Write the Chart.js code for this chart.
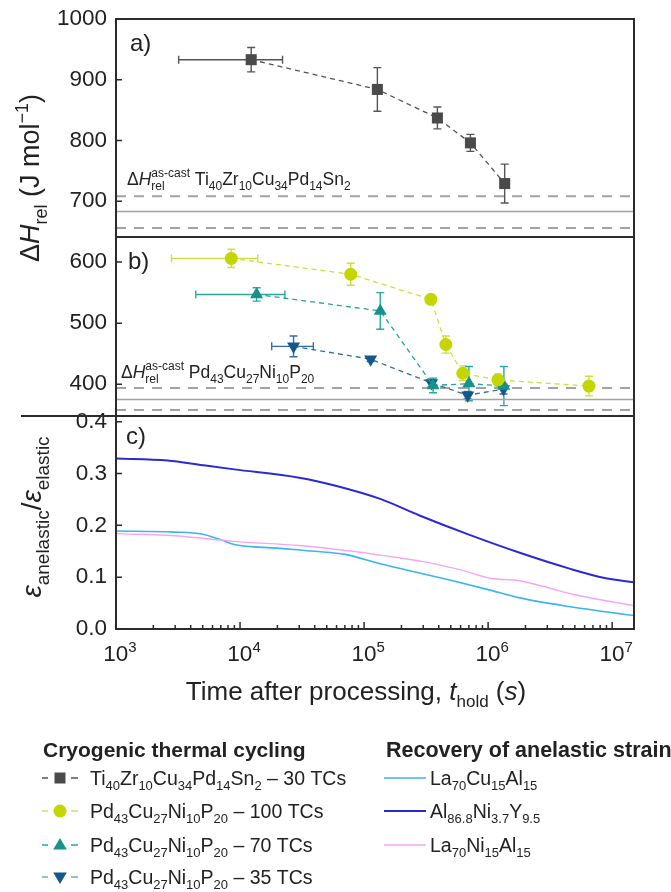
<!DOCTYPE html>
<html>
<head>
<meta charset="utf-8">
<script src="https://cdn.jsdelivr.net/npm/chart.js@4.4.1/dist/chart.umd.min.js"></script>
<style>
  html, body { margin: 0; padding: 0; background: #fff; }
  #wrap { position: relative; width: 671px; height: 892px; }
</style>
</head>
<body>
<div id="wrap"><canvas id="fig" width="671" height="892"></canvas></div>
<script>
var FONT = '"Liberation Sans", Arial, sans-serif';
var xMin = 1e3, xMax = 1.5e7;

// a) Ti40Zr10Cu34Pd14Sn2 - 30 TCs
var tiTime = [1.23e4, 1.28e5, 3.9e5, 7.2e5, 1.36e6];
var tiDH = [933, 884, 837, 796, 729];
var tiErr = [20, 36, 18, 14, 32];
var tiTimeSpan = [3.2e3, 2.2e4];

// b) Pd43Cu27Ni10P20 - 100 / 70 / 35 TCs
var pd100Time = [8.5e3, 7.8e4, 3.45e5, 4.56e5, 6.25e5, 1.2e6, 6.5e6];
var pd100DH = [606, 580, 539, 465, 418, 407, 397];
var pd100Err = [15, 18, 5, 14, 12, 10, 16];
var pd100TimeSpan = [2.8e3, 1.39e4];

var pd70Time = [1.36e4, 1.35e5, 3.6e5, 7.0e5, 1.34e6];
var pd70DH = [547, 520, 398, 401, 397];
var pd70Err = [11, 30, 12, 28, 32];
var pd70TimeSpan = [4.4e3, 2.3e4];

var pd35Time = [2.7e4, 1.13e5, 3.5e5, 6.85e5, 1.33e6];
var pd35DH = [462, 441, 402, 382, 392];
var pd35Err = [17, 4, 6, 6, 8];
var pd35TimeSpan = [1.8e4, 3.9e4];

// as-cast relaxation enthalpy: lower bound, mean, upper bound
var tiAsCast = [656, 683, 708];
var pdAsCast = [358, 375, 394];

// c) anelastic strain recovery
var laCuTime = [1e3, 2.9e3, 5e3, 7e3, 9e3, 2e4, 4e4, 7e4, 1.35e5, 2.8e5, 5e5, 1e6, 1.8e6, 4.6e6, 1.5e7];
var laCuVal = [0.189, 0.187, 0.183, 0.172, 0.163, 0.156, 0.150, 0.144, 0.126, 0.108, 0.094, 0.076, 0.060, 0.043, 0.026];
var alNiYTime = [1e3, 2.6e3, 5e3, 9e3, 3e4, 6e4, 1.35e5, 2.8e5, 7e5, 1.8e6, 4.6e6, 8.5e6, 1.5e7];
var alNiYVal = [0.329, 0.325, 0.316, 0.308, 0.292, 0.276, 0.251, 0.219, 0.182, 0.147, 0.116, 0.099, 0.090];
var laNiTime = [1e3, 3e3, 9e3, 3e4, 8e4, 1.5e5, 3e5, 6e5, 1.1e6, 1.7e6, 3e6, 5e6, 1.5e7];
var laNiVal = [0.184, 0.180, 0.169, 0.161, 0.150, 0.141, 0.130, 0.114, 0.097, 0.094, 0.080, 0.066, 0.045];

var ticksA = [700, 800, 900, 1000];
var ticksB = [400, 500, 600];
var ticksC = [0, 0.1, 0.2, 0.3, 0.4];
var decades = [3, 4, 5, 6, 7];

var C_TI = '#4a4a4a', C_100 = '#c4d600', C_70 = '#17918a', C_35 = '#12588c';
var C_LACU = '#3ab4f2', C_ALNIY = '#2a2ad2', C_LANI = '#f4a6f4';

function pts(xs, ys) {
  return xs.map(function (x, i) { return { x: x, y: ys[i] }; });
}

function series(xs, ys, err, span, color, lineColor, barColor, style, r, rot, axis) {
  return {
    data: pts(xs, ys), yAxisID: axis,
    borderColor: lineColor, borderWidth: 1.3, borderDash: [5, 4],
    pointStyle: style, pointRadius: r, pointRotation: rot,
    pointBackgroundColor: color, pointBorderColor: color, pointBorderWidth: 0,
    tension: 0, fill: false,
    errY: err, errX: span, barColor: barColor
  };
}

function curve(xs, ys, color, w) {
  return {
    data: pts(xs, ys), yAxisID: 'yC', borderColor: color, borderWidth: w,
    pointRadius: 0, cubicInterpolationMode: 'monotone', fill: false
  };
}

function refLine(v, axis, dashed) {
  return {
    data: [{ x: xMin, y: v }, { x: xMax, y: v }], yAxisID: axis,
    borderColor: '#a3a3a3', borderWidth: dashed ? 2 : 1.6,
    borderDash: dashed ? [10, 8] : [], pointRadius: 0, fill: false
  };
}

// ---- rich text: _{sub} ^{sup} _{sub}^{sup} and *italic* ----
function parseRich(s) {
  var out = [], i = 0, buf = '', italic = false;
  function flush() { if (buf) { out.push({ t: buf, k: 'n', it: italic }); buf = ''; } }
  while (i < s.length) {
    var c = s[i];
    if ((c === '_' || c === '^') && s[i + 1] === '{') {
      flush();
      var end = s.indexOf('}', i);
      var seg = { t: s.slice(i + 2, end), k: c === '_' ? 'sub' : 'sup' };
      i = end + 1;
      if (seg.k === 'sub' && s[i] === '^' && s[i + 1] === '{') {
        var end2 = s.indexOf('}', i);
        seg.sup = s.slice(i + 2, end2);
        seg.k = 'subsup';
        i = end2 + 1;
      }
      out.push(seg);
      continue;
    }
    if (c === '*') { flush(); italic = !italic; i++; continue; }
    buf += c; i++;
  }
  flush();
  return out;
}

function drawRich(ctx, s, x, y, size, o) {
  o = o || {};
  var wt = o.weight || 'normal';
  var small = Math.round(size * (o.subScale || 0.66));
  var segs = parseRich(s);
  function font(sz, it) { return (it ? 'italic ' : '') + wt + ' ' + sz + 'px ' + FONT; }
  var widths = [], w = 0;
  segs.forEach(function (g) {
    var sw;
    if (g.k === 'n') { ctx.font = font(size, g.it); sw = ctx.measureText(g.t).width; }
    else {
      ctx.font = font(small, false); sw = ctx.measureText(g.t).width;
      if (g.sup) sw = Math.max(sw, ctx.measureText(g.sup).width);
    }
    widths.push(sw); w += sw;
  });
  var cx = o.align === 'center' ? x - w / 2 : (o.align === 'right' ? x - w : x);
  ctx.textAlign = 'left';
  ctx.textBaseline = 'alphabetic';
  ctx.fillStyle = o.color || '#222';
  segs.forEach(function (g, i) {
    if (g.k === 'n') {
      ctx.font = font(size, g.it); ctx.fillText(g.t, cx, y);
    } else {
      ctx.font = font(small, false);
      if (g.k === 'sub' || g.k === 'subsup') ctx.fillText(g.t, cx, y + size * 0.28);
      if (g.k === 'sup') ctx.fillText(g.t, cx, y - size * 0.42);
      if (g.k === 'subsup') ctx.fillText(g.sup, cx, y - size * 0.45);
    }
    cx += widths[i];
  });
  return w;
}

function marker(ctx, style, x, y, color) {
  ctx.fillStyle = color;
  ctx.beginPath();
  if (style === 'rect') {
    ctx.rect(x - 5.5, y - 5.5, 11, 11);
  } else if (style === 'circle') {
    ctx.arc(x, y, 6.5, 0, Math.PI * 2);
  } else {
    var d = style === 'down' ? -1 : 1;
    ctx.moveTo(x, y - 7 * d);
    ctx.lineTo(x - 6.8, y + 4.5 * d);
    ctx.lineTo(x + 6.8, y + 4.5 * d);
    ctx.closePath();
  }
  ctx.fill();
}

// ---- error bars ----
var errorBars = {
  id: 'errorBars',
  beforeDatasetsDraw: function (chart) {
    var ctx = chart.ctx, xs = chart.scales.x;
    ctx.save();
    chart.data.datasets.forEach(function (ds) {
      if (!ds.errY) return;
      var ys = chart.scales[ds.yAxisID];
      ctx.strokeStyle = ds.barColor;
      ctx.lineWidth = 1.4;
      ctx.setLineDash([]);
      ds.data.forEach(function (p, i) {
        var px = xs.getPixelForValue(p.x);
        var t = ys.getPixelForValue(p.y + ds.errY[i]);
        var b = ys.getPixelForValue(p.y - ds.errY[i]);
        ctx.beginPath();
        ctx.moveTo(px, t); ctx.lineTo(px, b);
        ctx.moveTo(px - 4, t); ctx.lineTo(px + 4, t);
        ctx.moveTo(px - 4, b); ctx.lineTo(px + 4, b);
        ctx.stroke();
      });
      if (ds.errX) {
        var p0 = ds.data[0];
        var py = ys.getPixelForValue(p0.y);
        var l = xs.getPixelForValue(ds.errX[0]), r = xs.getPixelForValue(ds.errX[1]);
        ctx.beginPath();
        ctx.moveTo(l, py); ctx.lineTo(r, py);
        ctx.moveTo(l, py - 4); ctx.lineTo(l, py + 4);
        ctx.moveTo(r, py - 4); ctx.lineTo(r, py + 4);
        ctx.stroke();
      }
    });
    ctx.restore();
  }
};

// ---- frames, ticks, titles, annotations, legend ----
var decorations = {
  id: 'decorations',
  afterDraw: function (chart) {
    var ctx = chart.ctx, a = chart.chartArea;
    var xs = chart.scales.x, yA = chart.scales.yA, yB = chart.scales.yB, yC = chart.scales.yC;
    ctx.save();
    ctx.setLineDash([]);

    // panel frames
    ctx.strokeStyle = '#2b2b2b';
    ctx.lineWidth = 2;
    [yA, yB, yC].forEach(function (s) {
      ctx.strokeRect(a.left, s.top, a.right - a.left, s.bottom - s.top);
    });
    ctx.beginPath();
    ctx.moveTo(21, yB.bottom); ctx.lineTo(a.left, yB.bottom);
    ctx.stroke();

    // inward y ticks
    ctx.lineWidth = 1.5;
    ctx.beginPath();
    [[yA, ticksA], [yB, ticksB], [yC, ticksC]].forEach(function (pair) {
      pair[1].forEach(function (v) {
        var py = pair[0].getPixelForValue(v);
        ctx.moveTo(a.left, py); ctx.lineTo(a.left + 6, py);
      });
    });
    // inward log ticks on the bottom axis
    decades.forEach(function (d) {
      for (var m = 1; m <= 9; m++) {
        var v = m * Math.pow(10, d);
        if (v > xMax) break;
        var px = xs.getPixelForValue(v);
        var len = m === 1 ? 7 : 4;
        ctx.moveTo(px, a.bottom); ctx.lineTo(px, a.bottom - len);
      }
    });
    ctx.stroke();

    // x tick labels
    decades.forEach(function (d) {
      drawRich(ctx, '10^{' + d + '}', xs.getPixelForValue(Math.pow(10, d)) + 4, 661, 22.5, { align: 'center', subScale: 0.66 });
    });

    // axis titles
    drawRich(ctx, 'Time after processing, *t*_{hold} (*s*)', 356, 700, 26, { align: 'center' });

    ctx.save();
    ctx.translate(39, 178);
    ctx.rotate(-Math.PI / 2);
    drawRich(ctx, 'Δ*H*_{rel} (J mol^{−1})', 0, 0, 27, { align: 'center' });
    ctx.restore();

    ctx.save();
    ctx.translate(41, 517);
    ctx.rotate(-Math.PI / 2);
    drawRich(ctx, '*ε*_{anelastic}/*ε*_{elastic}', 0, 0, 28, { align: 'center', subScale: 0.68 });
    ctx.restore();

    // panel letters
    drawRich(ctx, 'a)', 130, 51, 24);
    drawRich(ctx, 'b)', 128, 269, 24);
    drawRich(ctx, 'c)', 126, 444, 24);

    // as-cast reference captions
    drawRich(ctx, 'Δ*H*_{rel}^{as-cast} Ti_{40}Zr_{10}Cu_{34}Pd_{14}Sn_{2}', 127, 185, 17.5);
    drawRich(ctx, 'Δ*H*_{rel}^{as-cast} Pd_{43}Cu_{27}Ni_{10}P_{20}', 121, 378, 17.5);

    // legend
    drawRich(ctx, 'Cryogenic thermal cycling', 43, 757, 21, { weight: 'bold' });
    drawRich(ctx, 'Recovery of anelastic strain', 386, 757, 21.5, { weight: 'bold' });

    var rows = [778, 811, 845, 877];
    var left = [
      ['rect', C_TI, '#555', 'Ti_{40}Zr_{10}Cu_{34}Pd_{14}Sn_{2} – 30 TCs'],
      ['circle', C_100, '#d4e26a', 'Pd_{43}Cu_{27}Ni_{10}P_{20} – 100 TCs'],
      ['up', C_70, '#2aa59d', 'Pd_{43}Cu_{27}Ni_{10}P_{20} – 70 TCs'],
      ['down', C_35, '#7aa6c8', 'Pd_{43}Cu_{27}Ni_{10}P_{20} – 35 TCs']
    ];
    left.forEach(function (e, i) {
      var y = rows[i];
      ctx.strokeStyle = e[2];
      ctx.lineWidth = 1.5;
      ctx.beginPath();
      ctx.moveTo(42, y); ctx.lineTo(48, y);
      ctx.moveTo(71, y); ctx.lineTo(78, y);
      ctx.stroke();
      marker(ctx, e[0], 60, y, e[1]);
      drawRich(ctx, e[3], 90, y + 7, 19.5);
    });

    var right = [
      [C_LACU, 1.6, 'La_{70}Cu_{15}Al_{15}'],
      [C_ALNIY, 2.2, 'Al_{86.8}Ni_{3.7}Y_{9.5}'],
      [C_LANI, 1.4, 'La_{70}Ni_{15}Al_{15}']
    ];
    right.forEach(function (e, i) {
      var y = rows[i];
      ctx.strokeStyle = e[0];
      ctx.lineWidth = e[1];
      ctx.beginPath();
      ctx.moveTo(384, y); ctx.lineTo(426, y);
      ctx.stroke();
      drawRich(ctx, e[2], 430, y + 7, 19.5);
    });

    ctx.restore();
  }
};

function yScale(lo, hi, ticks, weight, h, fmt) {
  return {
    type: 'linear', position: 'left', stack: 'panels', stackWeight: h, weight: weight,
    min: lo, max: hi,
    grid: { display: false, drawTicks: false },
    border: { display: false },
    afterBuildTicks: function (s) { s.ticks = ticks.map(function (v) { return { value: v }; }); },
    afterFit: function (s) { s.width = 116; s.paddingTop = 0; s.paddingBottom = 0; },
    ticks: {
      autoSkip: false,
      padding: 9, color: '#222',
      font: { family: FONT, size: 22.5 },
      callback: fmt
    }
  };
}

var datasets = [
  series(tiTime, tiDH, tiErr, tiTimeSpan, C_TI, '#555', '#555', 'rect', 7.8, 0, 'yA'),
  series(pd100Time, pd100DH, pd100Err, pd100TimeSpan, C_100, '#cfdf3a', '#cddf40', 'circle', 6.5, 0, 'yB'),
  series(pd70Time, pd70DH, pd70Err, pd70TimeSpan, C_70, '#26a39b', '#2aa8a0', 'triangle', 7.5, 0, 'yB'),
  series(pd35Time, pd35DH, pd35Err, pd35TimeSpan, C_35, '#2f6fa3', '#2f6fa3', 'triangle', 7.5, 180, 'yB'),
  curve(alNiYTime, alNiYVal, C_ALNIY, 2),
  curve(laNiTime, laNiVal, C_LANI, 1.4),
  curve(laCuTime, laCuVal, C_LACU, 1.6),
  refLine(tiAsCast[0], 'yA', true),
  refLine(tiAsCast[1], 'yA', false),
  refLine(tiAsCast[2], 'yA', true),
  refLine(pdAsCast[0], 'yB', true),
  refLine(pdAsCast[1], 'yB', false),
  refLine(pdAsCast[2], 'yB', true)
];

new Chart(document.getElementById('fig').getContext('2d'), {
  type: 'line',
  data: { datasets: datasets },
  options: {
    responsive: false,
    animation: false,
    layout: { padding: { left: 0, right: 37, top: 19, bottom: 223 } },
    plugins: { legend: { display: false }, tooltip: { enabled: false } },
    scales: {
      x: {
        type: 'logarithmic', min: xMin, max: xMax,
        grid: { display: false }, border: { display: false },
        ticks: { display: false },
        afterFit: function (s) { s.height = 40; }
      },
      yA: yScale(641, 1000, ticksA, 3, 218, function (v) { return v; }),
      yB: yScale(348, 641, ticksB, 2, 179, function (v) { return v; }),
      yC: yScale(0, 0.411, ticksC, 1, 213, function (v) { return v.toFixed(1); })
    }
  },
  plugins: [errorBars, decorations]
});
</script>
</body>
</html>
